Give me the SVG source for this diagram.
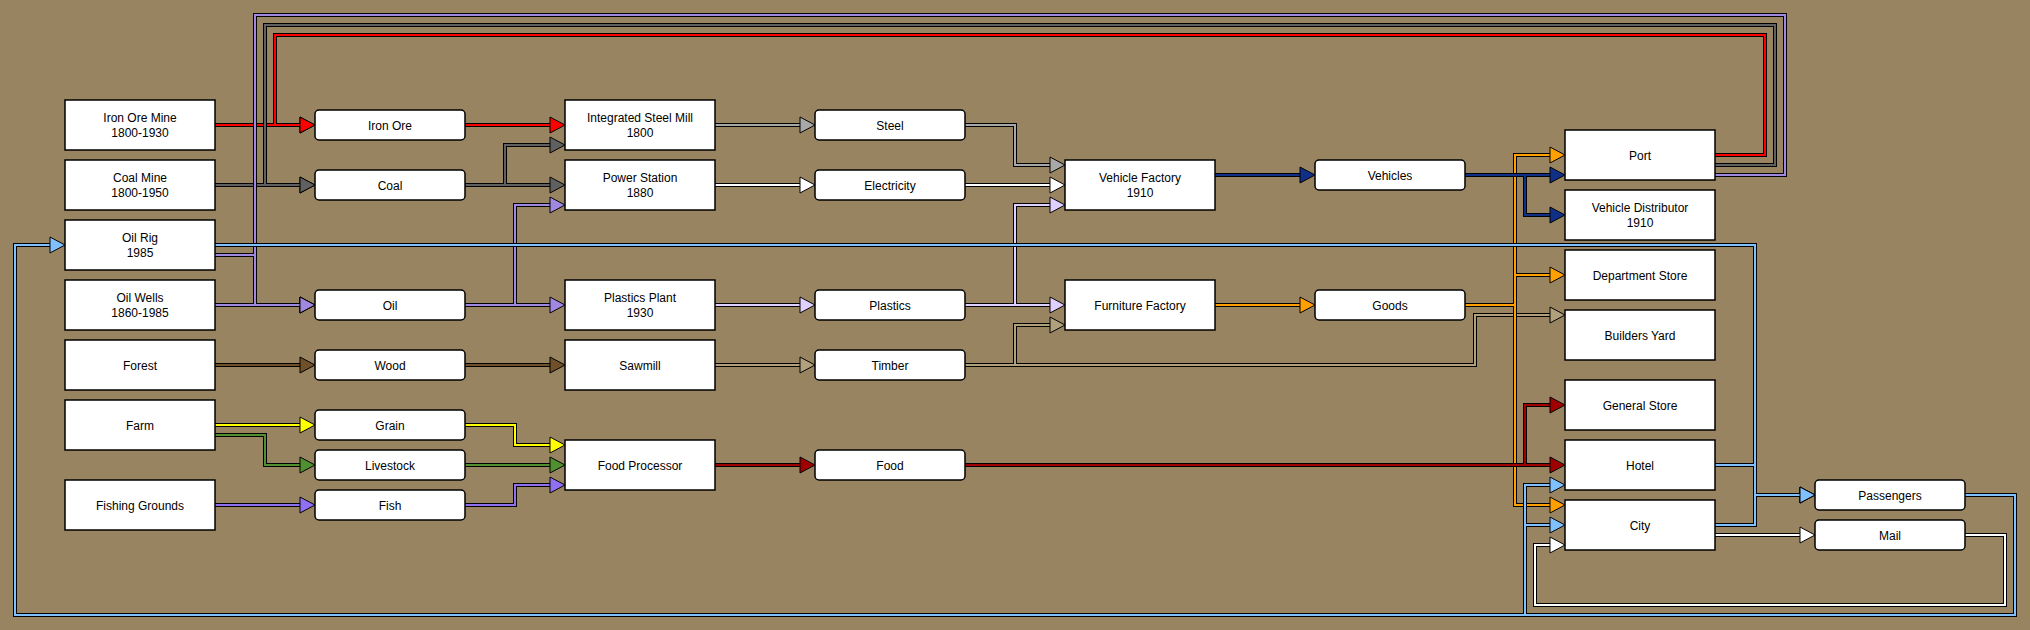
<svg xmlns="http://www.w3.org/2000/svg" width="2030" height="630" viewBox="0 0 2030 630">
<style>
.bg{fill:#998461}
.node rect{fill:#fff;stroke:#000;stroke-width:1.5}
.node text{font-family:"Liberation Sans",Arial,sans-serif;font-size:12px;fill:#000;text-anchor:middle}
.o{fill:none;stroke:#000;stroke-width:4}
.c{fill:none;stroke-width:2}
.iron .c{stroke:#ff0000;marker-end:url(#m-iron)}
.coal .c{stroke:#606060;marker-end:url(#m-coal)}
.oil .c{stroke:#a088e0;marker-end:url(#m-oil)}
.pass .c{stroke:#80c0ff;marker-end:url(#m-pass)}
.steel .c{stroke:#a8a8a8;marker-end:url(#m-steel)}
.elec .c{stroke:#ffffff;marker-end:url(#m-white)}
.plast .c{stroke:#e0d0ff;marker-end:url(#m-plast)}
.wood .c{stroke:#705028;marker-end:url(#m-wood)}
.timber .c{stroke:#b0a07c;marker-end:url(#m-timber)}
.grain .c{stroke:#ffff00;marker-end:url(#m-grain)}
.live .c{stroke:#509030;marker-end:url(#m-live)}
.fish .c{stroke:#9070f0;marker-end:url(#m-fish)}
.food .c{stroke:#a00000;marker-end:url(#m-food)}
.veh .c{stroke:#103088;marker-end:url(#m-veh)}
.goods .c{stroke:#ffa000;marker-end:url(#m-goods)}
.mail .c{stroke:#ffffff;marker-end:url(#m-white)}
marker{overflow:visible}
marker path{stroke:#000;stroke-width:1}
</style>
<defs>
<marker id="m-iron" markerUnits="userSpaceOnUse" orient="auto" refX="1" refY="0" markerWidth="16" markerHeight="16"><path d="M0,-8L15,0L0,8Z" fill="#ff0000"/></marker>
<marker id="m-coal" markerUnits="userSpaceOnUse" orient="auto" refX="1" refY="0" markerWidth="16" markerHeight="16"><path d="M0,-8L15,0L0,8Z" fill="#606060"/></marker>
<marker id="m-oil" markerUnits="userSpaceOnUse" orient="auto" refX="1" refY="0" markerWidth="16" markerHeight="16"><path d="M0,-8L15,0L0,8Z" fill="#a088e0"/></marker>
<marker id="m-pass" markerUnits="userSpaceOnUse" orient="auto" refX="1" refY="0" markerWidth="16" markerHeight="16"><path d="M0,-8L15,0L0,8Z" fill="#80c0ff"/></marker>
<marker id="m-steel" markerUnits="userSpaceOnUse" orient="auto" refX="1" refY="0" markerWidth="16" markerHeight="16"><path d="M0,-8L15,0L0,8Z" fill="#a8a8a8"/></marker>
<marker id="m-white" markerUnits="userSpaceOnUse" orient="auto" refX="1" refY="0" markerWidth="16" markerHeight="16"><path d="M0,-8L15,0L0,8Z" fill="#ffffff"/></marker>
<marker id="m-plast" markerUnits="userSpaceOnUse" orient="auto" refX="1" refY="0" markerWidth="16" markerHeight="16"><path d="M0,-8L15,0L0,8Z" fill="#e0d0ff"/></marker>
<marker id="m-wood" markerUnits="userSpaceOnUse" orient="auto" refX="1" refY="0" markerWidth="16" markerHeight="16"><path d="M0,-8L15,0L0,8Z" fill="#705028"/></marker>
<marker id="m-timber" markerUnits="userSpaceOnUse" orient="auto" refX="1" refY="0" markerWidth="16" markerHeight="16"><path d="M0,-8L15,0L0,8Z" fill="#b0a07c"/></marker>
<marker id="m-grain" markerUnits="userSpaceOnUse" orient="auto" refX="1" refY="0" markerWidth="16" markerHeight="16"><path d="M0,-8L15,0L0,8Z" fill="#ffff00"/></marker>
<marker id="m-live" markerUnits="userSpaceOnUse" orient="auto" refX="1" refY="0" markerWidth="16" markerHeight="16"><path d="M0,-8L15,0L0,8Z" fill="#509030"/></marker>
<marker id="m-fish" markerUnits="userSpaceOnUse" orient="auto" refX="1" refY="0" markerWidth="16" markerHeight="16"><path d="M0,-8L15,0L0,8Z" fill="#9070f0"/></marker>
<marker id="m-food" markerUnits="userSpaceOnUse" orient="auto" refX="1" refY="0" markerWidth="16" markerHeight="16"><path d="M0,-8L15,0L0,8Z" fill="#a00000"/></marker>
<marker id="m-veh" markerUnits="userSpaceOnUse" orient="auto" refX="1" refY="0" markerWidth="16" markerHeight="16"><path d="M0,-8L15,0L0,8Z" fill="#103088"/></marker>
<marker id="m-goods" markerUnits="userSpaceOnUse" orient="auto" refX="1" refY="0" markerWidth="16" markerHeight="16"><path d="M0,-8L15,0L0,8Z" fill="#ffa000"/></marker>
</defs>
<rect class="bg" x="0" y="0" width="2030" height="630"/>
<g id="connectors">
<g class="iron">
<path class="o" d="M215,125H301"/>
<path class="o" d="M1715,155H1765V35H275V125H301"/>
<path class="o" d="M465,125H551"/>
<path class="c" d="M215,125H301"/>
<path class="c" d="M1715,155H1765V35H275V125H301"/>
<path class="c" d="M465,125H551"/>
</g>
<g class="coal">
<path class="o" d="M215,185H301"/>
<path class="o" d="M1715,165H1775V25H265V185H301"/>
<path class="o" d="M465,185H551"/>
<path class="o" d="M465,185H505V145H551"/>
<path class="c" d="M215,185H301"/>
<path class="c" d="M1715,165H1775V25H265V185H301"/>
<path class="c" d="M465,185H551"/>
<path class="c" d="M465,185H505V145H551"/>
</g>
<g class="oil">
<path class="o" d="M215,305H301"/>
<path class="o" d="M215,255H255V305H301"/>
<path class="o" d="M1715,175H1785V15H255V305H301"/>
<path class="o" d="M465,305H551"/>
<path class="o" d="M465,305H515V205H551"/>
<path class="c" d="M215,305H301"/>
<path class="c" d="M215,255H255V305H301"/>
<path class="c" d="M1715,175H1785V15H255V305H301"/>
<path class="c" d="M465,305H551"/>
<path class="c" d="M465,305H515V205H551"/>
</g>
<g class="steel">
<path class="o" d="M715,125H801"/>
<path class="o" d="M965,125H1015V165H1051"/>
<path class="c" d="M715,125H801"/>
<path class="c" d="M965,125H1015V165H1051"/>
</g>
<g class="elec">
<path class="o" d="M715,185H801"/>
<path class="o" d="M965,185H1051"/>
<path class="c" d="M715,185H801"/>
<path class="c" d="M965,185H1051"/>
</g>
<g class="plast">
<path class="o" d="M715,305H801"/>
<path class="o" d="M965,305H1051"/>
<path class="o" d="M965,305H1015V205H1051"/>
<path class="c" d="M715,305H801"/>
<path class="c" d="M965,305H1051"/>
<path class="c" d="M965,305H1015V205H1051"/>
</g>
<g class="wood">
<path class="o" d="M215,365H301"/>
<path class="o" d="M465,365H551"/>
<path class="c" d="M215,365H301"/>
<path class="c" d="M465,365H551"/>
</g>
<g class="timber">
<path class="o" d="M715,365H801"/>
<path class="o" d="M965,365H1015V325H1051"/>
<path class="o" d="M965,365H1475V315H1551"/>
<path class="c" d="M715,365H801"/>
<path class="c" d="M965,365H1015V325H1051"/>
<path class="c" d="M965,365H1475V315H1551"/>
</g>
<g class="grain">
<path class="o" d="M215,425H301"/>
<path class="o" d="M465,425H515V445H551"/>
<path class="c" d="M215,425H301"/>
<path class="c" d="M465,425H515V445H551"/>
</g>
<g class="live">
<path class="o" d="M215,435H265V465H301"/>
<path class="o" d="M465,465H551"/>
<path class="c" d="M215,435H265V465H301"/>
<path class="c" d="M465,465H551"/>
</g>
<g class="fish">
<path class="o" d="M215,505H301"/>
<path class="o" d="M465,505H515V485H551"/>
<path class="c" d="M215,505H301"/>
<path class="c" d="M465,505H515V485H551"/>
</g>
<g class="goods">
<path class="o" d="M1215,305H1301"/>
<path class="o" d="M1465,305H1515V155H1551"/>
<path class="o" d="M1465,305H1515V275H1551"/>
<path class="o" d="M1465,305H1515V505H1551"/>
<path class="c" d="M1215,305H1301"/>
<path class="c" d="M1465,305H1515V155H1551"/>
<path class="c" d="M1465,305H1515V275H1551"/>
<path class="c" d="M1465,305H1515V505H1551"/>
</g>
<g class="food">
<path class="o" d="M715,465H801"/>
<path class="o" d="M965,465H1551"/>
<path class="o" d="M965,465H1525V405H1551"/>
<path class="c" d="M715,465H801"/>
<path class="c" d="M965,465H1551"/>
<path class="c" d="M965,465H1525V405H1551"/>
</g>
<g class="veh">
<path class="o" d="M1215,175H1301"/>
<path class="o" d="M1465,175H1551"/>
<path class="o" d="M1465,175H1525V215H1551"/>
<path class="c" d="M1215,175H1301"/>
<path class="c" d="M1465,175H1551"/>
<path class="c" d="M1465,175H1525V215H1551"/>
</g>
<g class="mail">
<path class="o" d="M1715,535H1801"/>
<path class="o" d="M1965,535H2005V605H1535V545H1551"/>
<path class="c" d="M1715,535H1801"/>
<path class="c" d="M1965,535H2005V605H1535V545H1551"/>
</g>
<g class="pass">
<path class="o" d="M215,245H1755V495H1801"/>
<path class="o" d="M1715,465H1755V495H1801"/>
<path class="o" d="M1715,525H1755V495H1801"/>
<path class="o" d="M1965,495H2015V615H15V245H51"/>
<path class="o" d="M1965,495H2015V615H1525V485H1551"/>
<path class="o" d="M1965,495H2015V615H1525V525H1551"/>
<path class="c" d="M215,245H1755V495H1801"/>
<path class="c" d="M1715,465H1755V495H1801"/>
<path class="c" d="M1715,525H1755V495H1801"/>
<path class="c" d="M1965,495H2015V615H15V245H51"/>
<path class="c" d="M1965,495H2015V615H1525V485H1551"/>
<path class="c" d="M1965,495H2015V615H1525V525H1551"/>
</g>
</g>
<g id="iron-ore-mine" class="node"><rect x="65" y="100" width="150" height="50"/><text x="140" y="122">Iron Ore Mine</text><text x="140" y="137">1800-1930</text></g>
<g id="coal-mine" class="node"><rect x="65" y="160" width="150" height="50"/><text x="140" y="182">Coal Mine</text><text x="140" y="197">1800-1950</text></g>
<g id="oil-rig" class="node"><rect x="65" y="220" width="150" height="50"/><text x="140" y="242">Oil Rig</text><text x="140" y="257">1985</text></g>
<g id="oil-wells" class="node"><rect x="65" y="280" width="150" height="50"/><text x="140" y="302">Oil Wells</text><text x="140" y="317">1860-1985</text></g>
<g id="forest" class="node"><rect x="65" y="340" width="150" height="50"/><text x="140" y="370">Forest</text></g>
<g id="farm" class="node"><rect x="65" y="400" width="150" height="50"/><text x="140" y="430">Farm</text></g>
<g id="fishing-grounds" class="node"><rect x="65" y="480" width="150" height="50"/><text x="140" y="510">Fishing Grounds</text></g>
<g id="cargo-iron-ore" class="node"><rect x="315" y="110" width="150" height="30" rx="4"/><text x="390" y="130">Iron Ore</text></g>
<g id="cargo-coal" class="node"><rect x="315" y="170" width="150" height="30" rx="4"/><text x="390" y="190">Coal</text></g>
<g id="cargo-oil" class="node"><rect x="315" y="290" width="150" height="30" rx="4"/><text x="390" y="310">Oil</text></g>
<g id="cargo-wood" class="node"><rect x="315" y="350" width="150" height="30" rx="4"/><text x="390" y="370">Wood</text></g>
<g id="cargo-grain" class="node"><rect x="315" y="410" width="150" height="30" rx="4"/><text x="390" y="430">Grain</text></g>
<g id="cargo-livestock" class="node"><rect x="315" y="450" width="150" height="30" rx="4"/><text x="390" y="470">Livestock</text></g>
<g id="cargo-fish" class="node"><rect x="315" y="490" width="150" height="30" rx="4"/><text x="390" y="510">Fish</text></g>
<g id="integrated-steel-mill" class="node"><rect x="565" y="100" width="150" height="50"/><text x="640" y="122">Integrated Steel Mill</text><text x="640" y="137">1800</text></g>
<g id="power-station" class="node"><rect x="565" y="160" width="150" height="50"/><text x="640" y="182">Power Station</text><text x="640" y="197">1880</text></g>
<g id="plastics-plant" class="node"><rect x="565" y="280" width="150" height="50"/><text x="640" y="302">Plastics Plant</text><text x="640" y="317">1930</text></g>
<g id="sawmill" class="node"><rect x="565" y="340" width="150" height="50"/><text x="640" y="370">Sawmill</text></g>
<g id="food-processor" class="node"><rect x="565" y="440" width="150" height="50"/><text x="640" y="470">Food Processor</text></g>
<g id="cargo-steel" class="node"><rect x="815" y="110" width="150" height="30" rx="4"/><text x="890" y="130">Steel</text></g>
<g id="cargo-electricity" class="node"><rect x="815" y="170" width="150" height="30" rx="4"/><text x="890" y="190">Electricity</text></g>
<g id="cargo-plastics" class="node"><rect x="815" y="290" width="150" height="30" rx="4"/><text x="890" y="310">Plastics</text></g>
<g id="cargo-timber" class="node"><rect x="815" y="350" width="150" height="30" rx="4"/><text x="890" y="370">Timber</text></g>
<g id="cargo-food" class="node"><rect x="815" y="450" width="150" height="30" rx="4"/><text x="890" y="470">Food</text></g>
<g id="vehicle-factory" class="node"><rect x="1065" y="160" width="150" height="50"/><text x="1140" y="182">Vehicle Factory</text><text x="1140" y="197">1910</text></g>
<g id="furniture-factory" class="node"><rect x="1065" y="280" width="150" height="50"/><text x="1140" y="310">Furniture Factory</text></g>
<g id="cargo-vehicles" class="node"><rect x="1315" y="160" width="150" height="30" rx="4"/><text x="1390" y="180">Vehicles</text></g>
<g id="cargo-goods" class="node"><rect x="1315" y="290" width="150" height="30" rx="4"/><text x="1390" y="310">Goods</text></g>
<g id="port" class="node"><rect x="1565" y="130" width="150" height="50"/><text x="1640" y="160">Port</text></g>
<g id="vehicle-distributor" class="node"><rect x="1565" y="190" width="150" height="50"/><text x="1640" y="212">Vehicle Distributor</text><text x="1640" y="227">1910</text></g>
<g id="department-store" class="node"><rect x="1565" y="250" width="150" height="50"/><text x="1640" y="280">Department Store</text></g>
<g id="builders-yard" class="node"><rect x="1565" y="310" width="150" height="50"/><text x="1640" y="340">Builders Yard</text></g>
<g id="general-store" class="node"><rect x="1565" y="380" width="150" height="50"/><text x="1640" y="410">General Store</text></g>
<g id="hotel" class="node"><rect x="1565" y="440" width="150" height="50"/><text x="1640" y="470">Hotel</text></g>
<g id="city" class="node"><rect x="1565" y="500" width="150" height="50"/><text x="1640" y="530">City</text></g>
<g id="cargo-passengers" class="node"><rect x="1815" y="480" width="150" height="30" rx="4"/><text x="1890" y="500">Passengers</text></g>
<g id="cargo-mail" class="node"><rect x="1815" y="520" width="150" height="30" rx="4"/><text x="1890" y="540">Mail</text></g>
</svg>
